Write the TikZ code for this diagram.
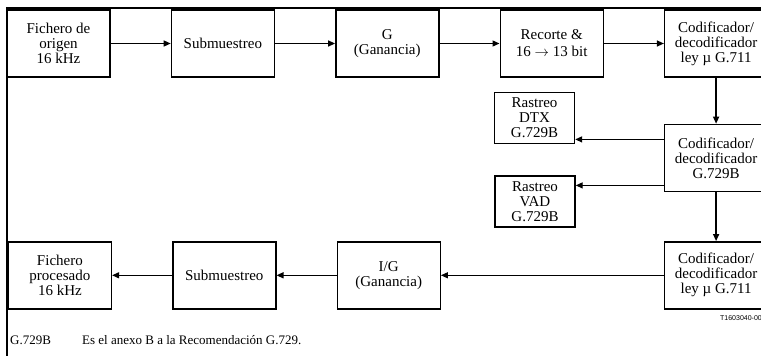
\documentclass[tikz,border=0pt]{standalone}
\usepackage{fontspec}
\setmainfont{Liberation Serif}
\newfontfamily\tagfont{Liberation Sans}
\usepackage{tikz}
\usetikzlibrary{arrows.meta, positioning}

\begin{document}
\begin{tikzpicture}[x=1pt, y=-1pt,
  box/.style={rectangle, draw, line width=1.4pt, minimum width=103pt,
              minimum height=67pt, align=center, inner sep=0pt,
              font=\fontsize{15}{15}\selectfont},
  trackbox/.style={box, minimum width=80pt, minimum height=51pt},
  arrow/.style={-{Triangle[length=7pt, width=6pt]}, line width=1.3pt}
]
\useasboundingbox (0,0) rectangle (761,356);

% frame
\draw[line width=1.6pt] (7,356) -- (7,8) -- (770,8);

% top row
\node[box] at (58.5,43.5) (srcfile) {Fichero de\\origen\\16 kHz};
\node[box, right=60pt of srcfile] (subtop) {Submuestreo};
\node[box, right=60pt of subtop] (gain) {G\\(Ganancia)};
\node[box, right=60pt of gain, font=\fontsize{15}{17}\selectfont]
  (clip) {Recorte \&\\16 $\rightarrow$ 13 bit};
\node[box, right=60pt of clip] (codtop) {Codificador/\\decodificador\\ley µ G.711};

% right column
\node[box, below=46pt of codtop] (codmid) {Codificador/\\decodificador\\G.729B};
\node[box, below=49pt of codmid] (codbot) {Codificador/\\decodificador\\ley µ G.711};

\node[trackbox] at (534.5,118) (dtx) {Rastreo\\DTX\\G.729B};
\node[trackbox] at (535,201.5) (vad) {Rastreo\\VAD\\G.729B};

% bottom row
\node[box, left=223pt of codbot] (invgain) {I/G\\(Ganancia)};
\node[box, left=60pt of invgain] (subbot) {Submuestreo};
\node[box, left=60pt of subbot] (outfile) {Fichero\\procesado\\16 kHz};

\draw[arrow] (srcfile) -- (subtop);
\draw[arrow] (subtop) -- (gain);
\draw[arrow] (gain) -- (clip);
\draw[arrow] (clip) -- (codtop);
\draw[arrow] (codtop) -- (codmid);
\draw[arrow] (codmid) -- (codbot);

\coordinate (dtxout) at ([yshift=18.5pt]codmid.west);
\coordinate (vadout) at ([yshift=-27.5pt]codmid.west);
\draw[arrow] (dtxout) -- (dtxout -| dtx.east);
\draw[arrow] (vadout) -- (vadout -| vad.east);

\draw[arrow] (codbot) -- (invgain);
\draw[arrow] (invgain) -- (subbot);
\draw[arrow] (subbot) -- (outfile);

% notes
\node[anchor=east, inner sep=0pt, font=\tagfont\fontsize{7}{7}\selectfont]
  at (762,318) (figtag) {T1603040-00};
\node[anchor=base west, inner sep=0pt, font=\fontsize{13}{13}\selectfont]
  at (10,344) (capkey) {G.729B};
\node[anchor=base west, inner sep=0pt, font=\fontsize{13}{13}\selectfont]
  at (82,344) (captext) {Es el anexo B a la Recomendación G.729.};

\end{tikzpicture}
\end{document}
